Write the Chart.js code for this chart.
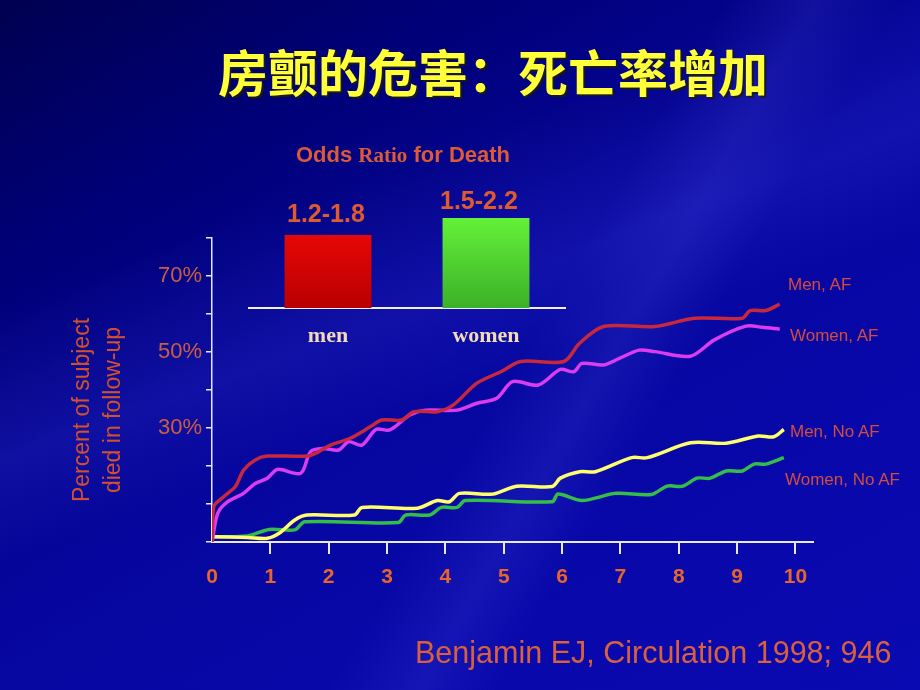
<!DOCTYPE html>
<html>
<head>
<meta charset="utf-8">
<script src="https://cdn.jsdelivr.net/npm/chart.js@4"></script>
<style>
html,body{margin:0;padding:0;}
body{width:920px;height:690px;overflow:hidden;position:relative;
background:
 linear-gradient(160deg, rgba(0,0,0,0) 30%, rgba(60,60,230,0.22) 45%, rgba(0,0,0,0) 55%),
 linear-gradient(120deg, rgba(0,0,0,0) 55%, rgba(90,90,240,0.16) 62%, rgba(0,0,0,0) 68%),
 linear-gradient(150deg, #000050 0%, #000078 22%, #06069e 50%, #0808aa 75%, #0a0ab2 100%);
font-family:Arial,"Liberation Sans",sans-serif;}
.t{position:absolute;white-space:nowrap;}
#title{left:0;width:986px;top:40px;text-align:center;font-family:"Noto Sans CJK SC",sans-serif;font-weight:bold;font-size:50px;line-height:60px;color:#ffff3a;text-shadow:2px 2px 1px #1a1a1a;}
#cite{left:415px;top:635px;font-size:30.5px;line-height:34px;color:#d9603c;}
.lab{font-size:17px;color:#d44c3c;line-height:20px;}
#otitle{left:296px;top:142px;font-size:22px;line-height:26px;font-weight:bold;color:#dc5a34;}
#otitle span{font-family:"Liberation Serif","Times New Roman",serif;font-size:21px;}
.val{font-size:25px;font-weight:bold;color:#e05a30;line-height:28px;}
#ytitle{left:-8px;top:379px;width:210px;height:62px;line-height:31px;text-align:center;font-size:23px;color:#d4502c;transform:rotate(-90deg);transform-origin:50% 50%;}
#main{position:absolute;left:0;top:0;}
#inset{position:absolute;left:230px;top:180px;}
</style>
</head>
<body>
<div class="t" id="title">房颤的危害：死亡率增加</div>
<canvas id="main" width="920" height="690"></canvas>
<canvas id="inset" width="350" height="190"></canvas>
<div class="t" id="ytitle">Percent of subject<br>died in follow-up</div>
<div class="t" id="otitle">Odds <span>Ratio</span> for Death</div>
<div class="t val" style="left:287px;top:199px;">1.2-1.8</div>
<div class="t val" style="left:440px;top:186px;">1.5-2.2</div>
<div class="t lab" style="left:788px;top:275px;">Men, AF</div>
<div class="t lab" style="left:790px;top:326px;">Women, AF</div>
<div class="t lab" style="left:790px;top:422px;">Men, No AF</div>
<div class="t lab" style="left:785px;top:470px;">Women, No AF</div>
<div class="t" id="cite">Benjamin EJ, Circulation 1998; 946</div>
<script>
// ---- data (years of follow-up, percent died) ----
const menAF_x   = [0,0.03,0.2,0.4,0.54,0.74,0.95,1.63,1.8,2.03,2.37,2.71,2.91,3.25,3.46,3.86,4.13,4.54,4.95,5.29,6.03,6.3,6.71,7.59,8.27,9.09,9.22,9.49,9.73];
const menAF_y   = [0,9.3,11.9,14.6,18.9,21.6,22.6,22.6,23.5,25.5,27.3,30.3,32.1,32.1,34.3,34.3,36,41.8,44.8,47.5,47.5,52.3,56.7,56.7,58.9,58.9,60.9,60.9,62.6];
const womenAF_x = [0,0.1,0.27,0.54,0.74,0.95,1.12,1.52,1.69,1.9,2.17,2.34,2.57,2.81,3.05,3.39,3.66,4.2,4.54,4.88,5.15,5.59,5.97,6.2,6.34,6.71,6.98,7.32,7.59,8.2,8.61,9.15,9.43,9.73];
const womenAF_y = [0,7.6,10.6,12.8,15.4,16.8,19.1,18.1,23.8,24.6,24.2,26.4,25.5,29.6,29.5,33.4,34.7,34.7,36.5,37.8,42.2,41.3,45.4,44.8,47,46.6,48.3,50.5,50.1,48.9,53.2,56.8,56.5,56];
const menNo_x   = [0.03,0.61,0.95,1.15,1.42,1.63,2.44,2.57,3.52,3.86,4.07,4.24,4.81,5.22,5.83,5.97,6.3,6.57,7.19,7.46,8.2,8.81,9.36,9.63,9.8];
const menNo_y   = [1.4,1.2,1.0,2.3,5.8,7.1,7.1,9.1,8.9,10.9,10.6,12.8,12.6,14.7,14.6,16.8,18.5,18.5,22.2,22.2,26.1,26.0,27.9,27.7,29.6];
const womenNo_x = [0.03,0.61,0.98,1.42,1.59,3.19,3.32,3.73,3.93,4.2,4.34,5.83,5.93,6.34,6.92,7.53,7.8,8.07,8.31,8.54,8.81,9.09,9.29,9.49,9.8];
const womenNo_y = [1.4,1.6,3.3,3.2,5.3,5.1,7.1,7.1,9.1,9.1,10.9,10.6,12.6,10.9,12.8,12.5,14.7,14.7,16.8,16.8,18.7,18.7,20.5,20.5,22.2];
const xTicks = [0,1,2,3,4,5,6,7,8,9,10];
const yTickLabels = {30:'30%', 50:'50%', 70:'70%'};
// ---- inset data ----
const oddsCats = ['men','women'];
const oddsMid  = [1.5, 1.85];

const pts = (xs, ys) => xs.map((x,i)=>({x:x, y:ys[i]}));
const mk = (xs, ys, color) => ({data: pts(xs, ys), borderColor: color, borderWidth: 3.5,
  pointRadius: 0, tension: 0.3, fill: false});

new Chart(document.getElementById('main'), {
  type: 'line',
  data: { datasets: [
    mk(menAF_x, menAF_y, '#c8283c'),
    mk(womenAF_x, womenAF_y, '#dc3cf0'),
    mk(menNo_x, menNo_y, '#ffff6e'),
    mk(womenNo_x, womenNo_y, '#34be48')
  ]},
  options: {
    responsive: false, animation: false,
    layout: { padding: { left: 60, top: 238, right: 107, bottom: 98 } },
    plugins: { legend: {display:false}, tooltip: {enabled:false} },
    scales: {
      x: { type: 'linear', min: 0, max: 10.3,
        afterFit: s => { s.height = 50; },
        afterBuildTicks: s => { s.ticks = xTicks.map(v => ({value: v})); },
        border: { display: true, color: '#e8e8f0', width: 2 },
        grid: { drawOnChartArea: false, drawTicks: true, tickLength: 12,
                color: c => (c.tick && c.tick.value === 0) ? 'rgba(0,0,0,0)' : '#e8e8f0', lineWidth: 2 },
        ticks: { color: '#e8642a', padding: 11, autoSkip: false, maxRotation: 0,
                 font: { family: 'Arial', size: 21, weight: 'bold' } }
      },
      y: { type: 'linear', min: 0, max: 80,
        afterFit: s => { s.width = 152; },
        border: { display: true, color: '#e8e8f0', width: 1.5 },
        grid: { drawOnChartArea: false, drawTicks: true, tickLength: 6, color: '#e8e8f0', lineWidth: 1.5 },
        ticks: { stepSize: 10, color: '#cc5e3e', padding: 4,
                 font: { family: 'Arial', size: 22 },
                 callback: v => yTickLabels[v] || '' }
      }
    }
  }
});

const barGrad = (ctx, top, bottom) => {
  const ca = ctx.chart.chartArea;
  if (!ca) return top;
  const g = ctx.chart.ctx.createLinearGradient(0, ca.top, 0, ca.bottom);
  g.addColorStop(0, top); g.addColorStop(1, bottom);
  return g;
};

new Chart(document.getElementById('inset'), {
  type: 'bar',
  data: { labels: oddsCats, datasets: [{
    data: oddsMid,
    backgroundColor: c => c.dataIndex === 0 ? barGrad(c, '#ff0a0a', '#b80000') : barGrad(c, '#6cff3c', '#3cb028'),
    borderWidth: 0, barPercentage: 0.55, categoryPercentage: 1
  }]},
  options: {
    responsive: false, animation: false,
    layout: { padding: { left: 19, right: 15, top: 18, bottom: 17 } },
    plugins: { legend: {display:false}, tooltip: {enabled:false} },
    scales: {
      x: { afterFit: s => { s.height = 45; },
        border: { display: true, color: '#f0f0f0', width: 2 },
        grid: { display: false },
        ticks: { color: '#f2dcb4', padding: 7, maxRotation: 0,
                 font: { family: '"Liberation Serif","Times New Roman",serif', size: 22, weight: 'bold' } } },
      y: { display: false, min: 0, max: 2.26 }
    }
  }
});
</script>
</body>
</html>
